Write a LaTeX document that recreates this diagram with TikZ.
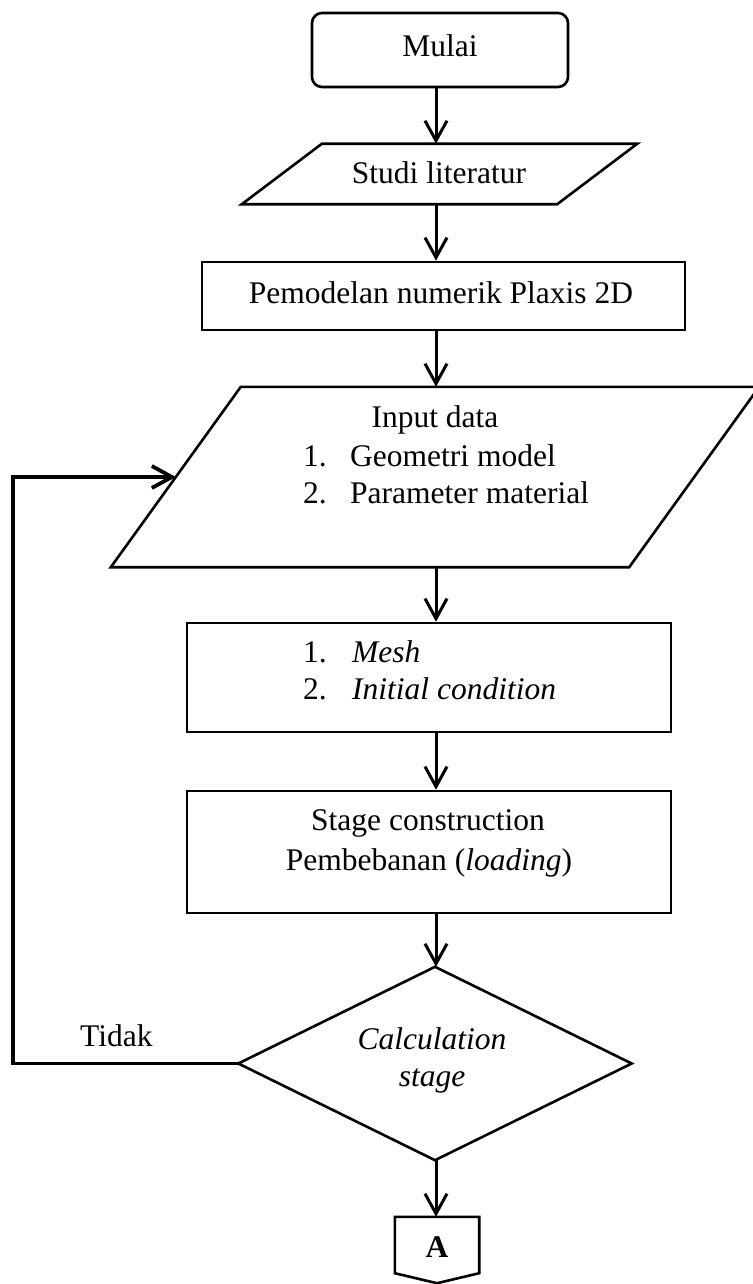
\documentclass[tikz,border=0pt]{standalone}
\usepackage{fontspec}
\setmainfont{Liberation Serif}
\usetikzlibrary{arrows.meta,calc}
\begin{document}
\begin{tikzpicture}[x=1pt,y=-1pt,
  txt/.style={inner sep=0pt, font=\fontsize{31.5}{37}\selectfont},
  boxshape/.style={draw, line width=2.6pt, inner sep=0pt},
  ghost/.style={inner sep=0pt, draw=none},
  outline/.style={line width=2.6pt, line join=miter},
  arr/.style={line width=3pt, -{Straight Barb[length=20pt,width=22pt]}},
  looparr/.style={line width=3.8pt, line join=miter, -{Straight Barb[length=20pt,width=22pt]}},
]
\useasboundingbox (0,0) rectangle (752,1284);
\coordinate (ax) at (436,0);
\coordinate (lx) at (13,0);

% shapes
\node[boxshape, rounded corners=10pt, minimum width=256pt, minimum height=74pt] (mulai) at (440,50) {};
\node[ghost, minimum width=315pt, minimum height=60pt] (studi) at (439.5,174) {};
\draw[outline] ([xshift=40pt]studi.north west) -- ([xshift=40pt]studi.north east)
  -- ([xshift=-40pt]studi.south east) -- ([xshift=-40pt]studi.south west) -- cycle;
\node[boxshape, minimum width=483pt, minimum height=68pt] (pem) at (443.5,296) {};
\node[ghost, minimum width=518pt, minimum height=180pt] (input) at (435,477) {};
\draw[outline] ([xshift=65pt]input.north west) -- ([xshift=65pt]input.north east)
  -- ([xshift=-65pt]input.south east) -- ([xshift=-65pt]input.south west) -- cycle;
\node[boxshape, minimum width=484pt, minimum height=109pt] (mesh) at (429,677.5) {};
\node[boxshape, minimum width=484pt, minimum height=122pt] (stage) at (429,852) {};
\node[ghost, minimum width=393pt, minimum height=193pt] (dia) at (435,1063.5) {};
\draw[outline] (dia.north) -- (dia.east) -- (dia.south) -- (dia.west) -- cycle;
\node[ghost, minimum width=84pt, minimum height=66pt] (conA) at (437,1250) {};
\draw[outline] (conA.north west) -- (conA.north east) -- ([yshift=10pt]conA.south east)
  -- (conA.south) -- ([yshift=10pt]conA.south west) -- cycle;

% texts
\node[txt, anchor=base] (tmulai) at (440,57) {Mulai};
\node[txt, anchor=base] (tstudi) at (439,184) {Studi literatur};
\node[txt, anchor=base] (tpem) at (441,303) {Pemodelan numerik Plaxis 2D};
\node[txt, anchor=base] (tinput) at (435,427) {Input data};
\node[txt, anchor=base west] (tin1n) at (303,466) {1.};
\node[txt, anchor=base west] (tin1) at (350,466) {Geometri model};
\node[txt, anchor=base west] (tin2n) at (303,503) {2.};
\node[txt, anchor=base west] (tin2) at (350,503) {Parameter material};
\node[txt, anchor=base west] (tm1n) at (303,662) {1.};
\node[txt, anchor=base west] (tm1) at (352,662) {\itshape Mesh};
\node[txt, anchor=base west] (tm2n) at (303,699) {2.};
\node[txt, anchor=base west] (tm2) at (352,699) {\itshape Initial condition};
\node[txt, anchor=base] (ts1) at (428,830) {Stage construction};
\node[txt, anchor=base] (ts2) at (429,870) {Pembebanan (\textit{loading})};
\node[txt, anchor=base] (tc1) at (432,1049) {\itshape Calculation};
\node[txt, anchor=base] (tc2) at (432,1086) {\itshape stage};
\node[txt, anchor=base west] (ttidak) at (80,1046) {Tidak};
\node[txt, anchor=base] (tA) at (437,1257) {\bfseries A};

% connectors
\draw[arr] (mulai.south -| ax) -- (studi.north -| ax);
\draw[arr] (studi.south -| ax) -- (pem.north -| ax);
\draw[arr] (pem.south -| ax) -- (input.north -| ax);
\draw[arr] (input.south -| ax) -- (mesh.north -| ax);
\draw[arr] (mesh.south -| ax) -- (stage.north -| ax);
\draw[arr] (stage.south -| ax) -- (dia.north -| ax);
\draw[arr] (dia.south -| ax) -- (conA.north -| ax);
\draw[looparr] (dia.west) -- (dia.west -| lx) -- (input.west -| lx) -- (input.west);
\end{tikzpicture}
\end{document}
